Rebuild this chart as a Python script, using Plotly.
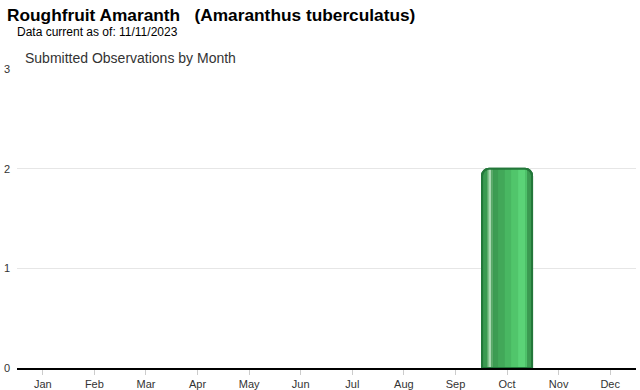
import plotly.graph_objects as go

months = ["Jan", "Feb", "Mar", "Apr", "May", "Jun", "Jul", "Aug", "Sep", "Oct", "Nov", "Dec"]
observations = [0, 0, 0, 0, 0, 0, 0, 0, 0, 2, 0, 0]
y_ticks = [0, 1, 2, 3]

title_text = "Roughfruit Amaranth   (Amaranthus tuberculatus)"
subtitle_text = "Data current as of: 11/11/2023"
chart_label = "Submitted Observations by Month"

FONT = "Arial, Liberation Sans, sans-serif"
BAR_W = 0.97
L, R, T, B = 17, 4, 69, 22
W, H = 640, 390
# gradient stripes across the bar interior (fractions of the bar width) - style only
stripes = [
    (0.10, 0.13, "#5fae6e"),
    (0.13, 0.18, "#a9d8b1"),
    (0.18, 0.22, "#5aa96a"),
    (0.22, 0.32, "#3c9c52"),
    (0.32, 0.45, "#42a859"),
    (0.45, 0.58, "#49b762"),
    (0.58, 0.72, "#51c56b"),
    (0.72, 0.86, "#5bd377"),
    (0.86, 0.90, "#4fc26a"),
]

line_w = [0 if v == 0 else 2 for v in observations]

fig = go.Figure()
# base bar
fig.add_trace(go.Bar(x=months, y=observations, width=BAR_W,
                     marker=dict(color="#3b9a51", line=dict(color="#23773a", width=line_w),
                                 cornerradius=7),
                     hoverinfo="skip", showlegend=False))
for s, e, c in stripes:
    fig.add_trace(go.Bar(x=months, y=observations,
                         width=BAR_W * (e - s), offset=-BAR_W / 2 + BAR_W * s,
                         marker=dict(color=c, line=dict(width=0)),
                         hoverinfo="skip", showlegend=False))
# outline on top
fig.add_trace(go.Bar(x=months, y=observations, width=BAR_W,
                     marker=dict(color="rgba(0,0,0,0)", line=dict(color="#23773a", width=line_w),
                                 cornerradius=7),
                     hovertemplate="%{x}: %{y}<extra></extra>", showlegend=False))


def px(x, y):
    return dict(x=(x - L) / (W - L - R), y=(H - y - B) / (H - T - B))


fig.update_layout(
    barmode="overlay",
    width=W, height=H,
    margin=dict(l=L, r=R, t=T, b=B, autoexpand=False),
    paper_bgcolor="white", plot_bgcolor="white",
    font=dict(family=FONT, size=11, color="#333333"),
    annotations=[
        dict(text="<b>" + title_text + "</b>", **px(5, 15), xref="paper", yref="paper",
             showarrow=False, xanchor="left", yanchor="middle", font=dict(size=17.3, color="#000000")),
        dict(text=subtitle_text, **px(15, 32), xref="paper", yref="paper",
             showarrow=False, xanchor="left", yanchor="middle", font=dict(size=12, color="#000000")),
        dict(text=chart_label, **px(23, 58), xref="paper", yref="paper",
             showarrow=False, xanchor="left", yanchor="middle", font=dict(size=14, color="#333333")),
    ],
)

fig.update_xaxes(type="category", categoryorder="array", categoryarray=months,
                 showline=True, linecolor="#000000", linewidth=2,
                 ticks="outside", ticklen=5, tickcolor="#cccccc",
                 showgrid=False, tickfont=dict(size=11, color="#333333"),
                 automargin=False, fixedrange=True)
fig.update_yaxes(range=[0, 3], tickvals=y_ticks, showgrid=True, gridcolor="#e6e6e6",
                 zeroline=False, showline=False, ticks="", ticklabelstandoff=6,
                 tickfont=dict(size=11, color="#333333"), automargin=False, fixedrange=True)

fig.write_html("out.html", config={"displayModeBar": False})
